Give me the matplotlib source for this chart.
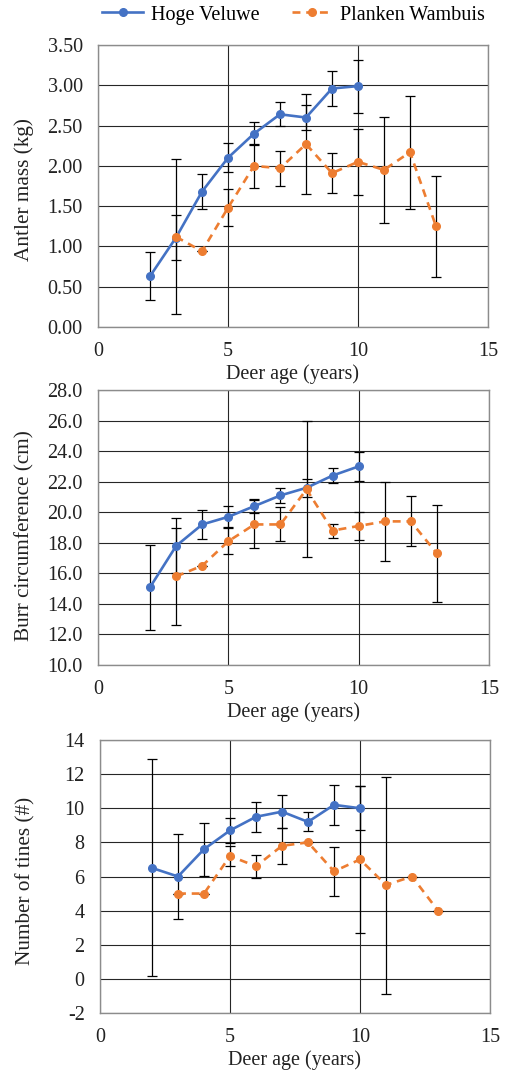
import matplotlib
matplotlib.use("Agg")
import matplotlib.pyplot as plt
from matplotlib.ticker import FixedLocator, FormatStrFormatter

plt.rcParams['font.family'] = ['Liberation Serif', 'DejaVu Serif']
plt.rcParams['font.size'] = 14.5

# Deer age (years)
hv_age = [2, 3, 4, 5, 6, 7, 8, 9, 10]
pw_age = [3, 4, 5, 6, 7, 8, 9, 10, 11, 12, 13]

# Antler mass (kg): mean and standard deviation
hv_mass = [0.63, 1.11, 1.68, 2.10, 2.40, 2.64, 2.60, 2.96, 2.99]
hv_mass_sd = [0.30, 0.28, 0.22, 0.18, 0.14, 0.15, 0.15, 0.22, 0.33]
pw_mass = [1.12, 0.94, 1.48, 2.00, 1.97, 2.27, 1.91, 2.05, 1.95, 2.17, 1.25]
pw_mass_sd = [0.96, 0.0, 0.23, 0.27, 0.22, 0.62, 0.25, 0.41, 0.66, 0.70, 0.63]

# Burr circumference (cm)
hv_burr = [15.1, 17.8, 19.2, 19.7, 20.4, 21.1, 21.6, 22.4, 23.0]
hv_burr_sd = [2.78, 1.79, 0.96, 0.68, 0.47, 0.50, 0.59, 0.47, 0.94]
pw_burr = [15.8, 16.5, 18.1, 19.2, 19.2, 21.5, 18.8, 19.1, 19.4, 19.4, 17.3]
pw_burr_sd = [3.19, 0.0, 0.85, 1.57, 1.11, 4.46, 0.46, 0.94, 2.58, 1.64, 3.17]

# Number of tines
hv_tines = [6.5, 6.0, 7.6, 8.7, 9.5, 9.8, 9.2, 10.2, 10.0]
hv_tines_sd = [6.36, 2.48, 1.56, 0.72, 0.87, 0.98, 0.56, 1.18, 1.30]
pw_tines = [5.0, 5.0, 7.2, 6.6, 7.8, 8.0, 6.3, 7.0, 5.5, 6.0, 4.0]
pw_tines_sd = [0.0, 0.0, 0.56, 0.68, 1.05, 0.0, 1.43, 4.30, 6.36, 0.0, 0.0]

series_names = ["Hoge Veluwe", "Planken Wambuis"]
x_ticks = [0, 5, 10, 15]

BLUE = "#4472C4"
ORANGE = "#ED7D31"
GRID = "#262626"
FRAME = "#8c8c8c"
TEXT = "#222222"

W, H = 509, 1073
fig = plt.figure(figsize=(W / 100, H / 100), dpi=100)


def px_axes(left, right, top, bottom):
    return fig.add_axes([left / W, 1 - bottom / H, (right - left) / W, (bottom - top) / H])


panels = [
    dict(box=(98, 488, 45, 327), ylim=(0, 3.5), yticks=[0, 0.5, 1, 1.5, 2, 2.5, 3, 3.5],
         fmt="%.2f", ylabel="Antler mass (kg)", label_x=34, label_dy=4,
         hv=(hv_mass, hv_mass_sd), pw=(pw_mass, pw_mass_sd)),
    dict(box=(98, 489, 390, 665), ylim=(10, 28), yticks=list(range(10, 29, 2)),
         fmt="%.1f", ylabel="Burr circumference (cm)", label_x=34, label_dy=8,
         hv=(hv_burr, hv_burr_sd), pw=(pw_burr, pw_burr_sd)),
    dict(box=(100, 490, 740, 1013), ylim=(-2, 14), yticks=list(range(-2, 15, 2)),
         fmt="%d", ylabel="Number of tines (#)", label_x=35, label_dy=4,
         hv=(hv_tines, hv_tines_sd), pw=(pw_tines, pw_tines_sd)),
]

handles = []
for p in panels:
    left, right, top, bottom = p["box"]
    ax = px_axes(left, right, top, bottom)
    ax.set_xlim(0, 15)
    ax.set_ylim(*p["ylim"])
    ax.xaxis.set_major_locator(FixedLocator(x_ticks))
    ax.yaxis.set_major_locator(FixedLocator(p["yticks"]))
    ax.yaxis.set_major_formatter(FormatStrFormatter(p["fmt"]))
    ax.grid(True, color=GRID, linewidth=0.8)
    ax.set_axisbelow(True)
    for s in ax.spines.values():
        s.set_color(FRAME)
        s.set_linewidth(1.0)
    ax.tick_params(length=0, colors=TEXT)
    ax.tick_params(axis="y", pad=11)
    ax.tick_params(axis="x", pad=11)
    ax.set_xlabel("Deer age (years)", labelpad=2, color=TEXT)
    ax.set_ylabel(p["ylabel"], color=TEXT, fontsize=15.3)
    ax.yaxis.set_label_coords((p["label_x"] - left) / (right - left),
                              0.5 - p["label_dy"] / (bottom - top))

    y, e = p["hv"]
    ax.errorbar(hv_age, y, yerr=e, fmt="none", ecolor="black", elinewidth=0.9,
                capsize=3.5, capthick=0.9, zorder=3)
    h1, = ax.plot(hv_age, y, color=BLUE, lw=1.9, marker="o", ms=5.5,
                  label=series_names[0], zorder=4)
    y, e = p["pw"]
    ax.errorbar(pw_age, y, yerr=e, fmt="none", ecolor="black", elinewidth=0.9,
                capsize=3.5, capthick=0.9, zorder=3)
    h2, = ax.plot(pw_age, y, color=ORANGE, lw=1.9, ls=(0, (3, 2.2)), marker="o",
                  ms=5.5, label=series_names[1], zorder=4)
    handles = [h1, h2]

fig.legend(handles, series_names, loc="center", bbox_to_anchor=(0.577, 1 - 15 / H),
           ncol=2, frameon=False, handlelength=2.0, columnspacing=1.6,
           handletextpad=0.4, fontsize=14.5)

fig.savefig("out.png", dpi=100)
